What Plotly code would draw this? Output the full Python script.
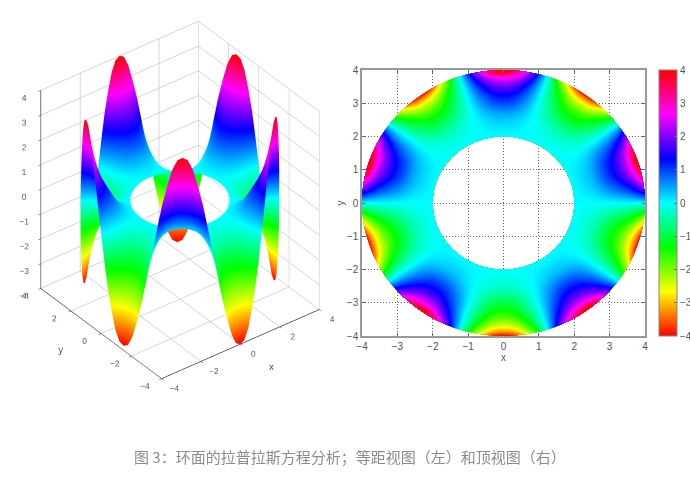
import numpy as np
import plotly.graph_objects as go

# polar sample positions
theta_deg = list(range(0, 363, 3))
radius = [2.0, 2.125, 2.25, 2.375, 2.5, 2.625, 2.75, 2.875, 3.0, 3.125, 3.25, 3.375, 3.5, 3.625, 3.75, 3.875, 4.0]

# height read around the outer rim (r = 4), every 3 degrees: five waves, then the closing point
rim_height = [
    0, 1.0, 2.0, 2.8, 3.5, 3.9, 4.0, 3.9, 3.5, 2.8, 2.0, 1.0, 0, -1.0, -2.0, -2.8, -3.5, -3.9, -4.0, -3.9, -3.5, -2.8, -2.0, -1.0,
    0, 1.0, 2.0, 2.8, 3.5, 3.9, 4.0, 3.9, 3.5, 2.8, 2.0, 1.0, 0, -1.0, -2.0, -2.8, -3.5, -3.9, -4.0, -3.9, -3.5, -2.8, -2.0, -1.0,
    0, 1.0, 2.0, 2.8, 3.5, 3.9, 4.0, 3.9, 3.5, 2.8, 2.0, 1.0, 0, -1.0, -2.0, -2.8, -3.5, -3.9, -4.0, -3.9, -3.5, -2.8, -2.0, -1.0,
    0, 1.0, 2.0, 2.8, 3.5, 3.9, 4.0, 3.9, 3.5, 2.8, 2.0, 1.0, 0, -1.0, -2.0, -2.8, -3.5, -3.9, -4.0, -3.9, -3.5, -2.8, -2.0, -1.0,
    0, 1.0, 2.0, 2.8, 3.5, 3.9, 4.0, 3.9, 3.5, 2.8, 2.0, 1.0, 0, -1.0, -2.0, -2.8, -3.5, -3.9, -4.0, -3.9, -3.5, -2.8, -2.0, -1.0,
    0,
]
# fraction of the rim height reached at each radius
radial_fraction = [0.0, 0.015, 0.03, 0.05, 0.07, 0.1, 0.14, 0.19, 0.24, 0.29, 0.34, 0.4, 0.47, 0.56, 0.67, 0.81, 1.0]

axis_ticks = [-4, -2, 0, 2, 4]
z_ticks = [-4, -3, -2, -1, 0, 1, 2, 3, 4]
unit_ticks = [-4, -3, -2, -1, 0, 1, 2, 3, 4]
caption = "图 3：环面的拉普拉斯方程分析；等距视图（左）和顶视图（右）"

W, H = 690, 480
hsv = [[0, "#ff0000"], [1/6, "#ffff00"], [2/6, "#00ff00"], [3/6, "#00ffff"],
       [4/6, "#0000ff"], [5/6, "#ff00ff"], [1, "#ff0000"]]

t = np.radians(theta_deg)
r = np.array(radius)
X = np.outer(r, np.cos(t))
Y = np.outer(r, np.sin(t))
Z = np.outer(radial_fraction, rim_height)

FONT = dict(family="Liberation Sans, Arial, sans-serif", size=10, color="#555555")

fig = go.Figure()
fig.add_trace(go.Surface(
    x=X, y=Y, z=Z, colorscale=hsv, cmin=-4, cmax=4, scene="scene",
    lighting=dict(ambient=1, diffuse=0, specular=0, fresnel=0, roughness=1),
    hoverinfo="skip",
    colorbar=dict(
        x=659/W, xanchor="left", y=1-336/H, yanchor="bottom",
        len=266/H, lenmode="fraction", thickness=18, thicknessmode="pixels",
        tickvals=unit_ticks, ticks="inside", ticklen=3, tickcolor="#666666",
        tickfont=FONT, outlinecolor="#888888", outlinewidth=1, xpad=0, ypad=0,
    ),
))
fig.add_trace(go.Carpet(
    a=theta_deg, b=radius, x=X, y=Y, carpet="annulus", xaxis="x", yaxis="y",
    aaxis=dict(smoothing=0, showgrid=False, showticklabels="none", showline=False,
               startline=False, endline=False, minorgridcount=0),
    baxis=dict(smoothing=0, showgrid=False, showticklabels="none", showline=False,
               startline=False, endline=False, minorgridcount=0),
))
fig.add_trace(go.Contourcarpet(
    a=theta_deg, b=radius, z=Z, carpet="annulus", xaxis="x", yaxis="y",
    colorscale=hsv, zmin=-4, zmax=4, autocontour=False, showscale=False,
    contours=dict(start=-4, end=4, size=0.05, coloring="fill", showlines=False),
    line=dict(width=0),
))

def axis3d(title, ticks):
    return dict(
        title=dict(text=title, font=FONT), tickvals=ticks, range=[ticks[0], ticks[-1]],
        tickfont=FONT, tickangle=0, showbackground=False, gridcolor="#b0b0b0", gridwidth=1,
        showline=True, linecolor="#333333", linewidth=1.5, ticks="outside",
        ticklen=3, tickcolor="#333333", zeroline=False, showspikes=False, autorange=False,
    )

def axis2d(title, dom):
    return dict(
        title=dict(text=title, font=FONT, standoff=0), domain=dom, range=[-4, 4], dtick=1,
        tick0=-4, tickfont=FONT, showgrid=True, gridcolor="#666666", griddash="1px,2px",
        gridwidth=1, zeroline=False, showline=True, linecolor="#999999", linewidth=1.5,
        mirror="ticks", ticks="inside", ticklen=3, tickcolor="#666666",
    )

fig.update_layout(
    width=W, height=H, margin=dict(l=0, r=0, t=0, b=0, autoexpand=False), autosize=False,
    paper_bgcolor="white", plot_bgcolor="white", font=FONT, showlegend=False,
    scene=dict(
        domain=dict(x=[10/W, 350/W], y=[1-391/H, 1-9/H]),
        xaxis=axis3d("x", axis_ticks), yaxis=axis3d("y", axis_ticks), zaxis=axis3d("z", z_ticks),
        aspectmode="manual", aspectratio=dict(x=1.04, y=1.04, z=1.264),
        camera=dict(projection=dict(type="orthographic"),
                    eye=dict(x=-0.858, y=-1.12, z=0.985), center=dict(x=0, y=0, z=0),
                    up=dict(x=0, y=0, z=1)),
    ),
    xaxis=axis2d("x", [362/W, 645/W]),
    yaxis=axis2d("y", [1-336/H, 1-70/H]),
    annotations=[dict(text=caption, x=350/W, y=1-456/H, xref="paper", yref="paper",
                      showarrow=False, xanchor="center", yanchor="middle",
                      font=dict(family="Noto Sans CJK SC", size=15, color="#8c8c8c"))],
)
fig.write_html("out.html", config=dict(displayModeBar=False),
               post_script="document.body.style.margin='0';document.documentElement.style.overflow='hidden';")
